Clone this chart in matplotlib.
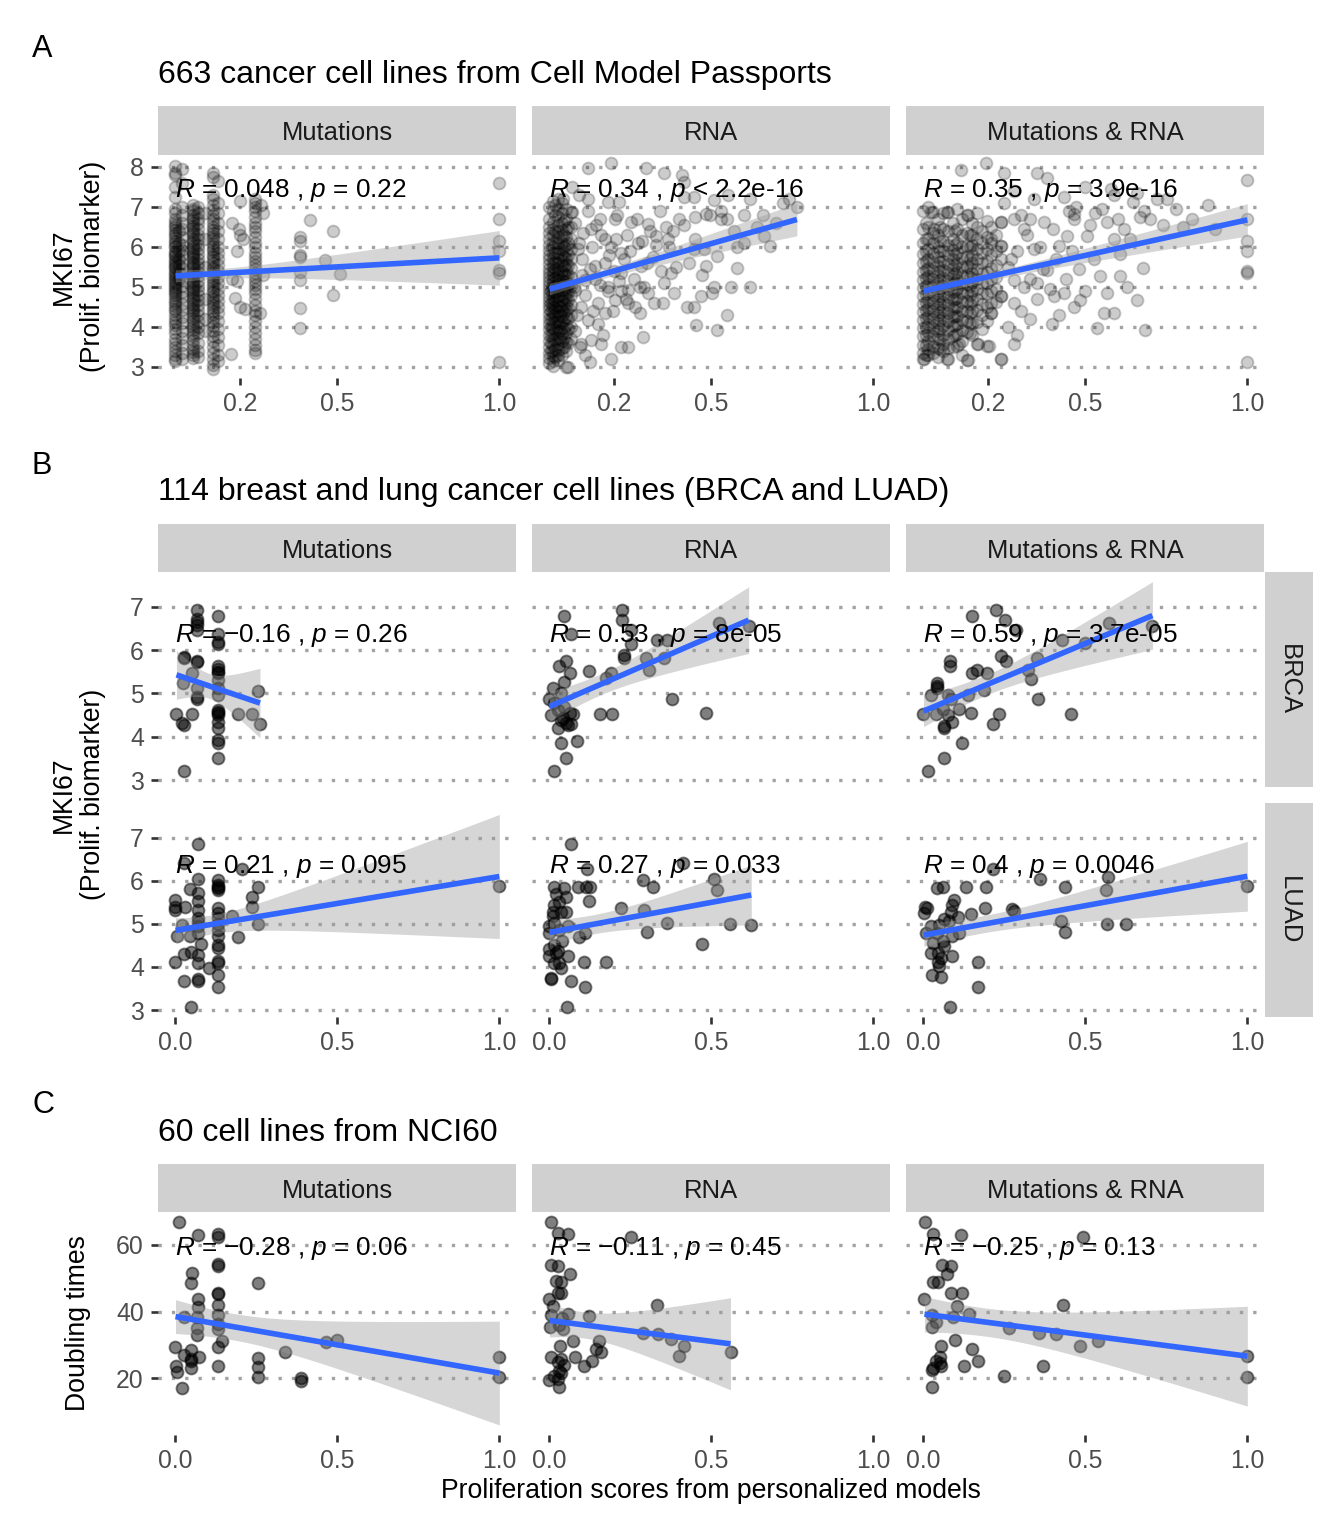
import numpy as np
import matplotlib.pyplot as plt
from matplotlib.patches import Rectangle

plt.rcParams["font.family"] = ["Liberation Sans", "DejaVu Sans"]
plt.rcParams["mathtext.fontset"] = "custom"
plt.rcParams["mathtext.rm"] = "Liberation Sans"
plt.rcParams["mathtext.it"] = "Liberation Sans:italic"

W, H, DPI = 1344, 1536, 192

METHODS = ["Mutations", "RNA", "Mutations & RNA"]

# ---------------------------------------------------------------- panel A data
# columns of points: (x, [y values])  +  loose points (x, y)
A_MUT_COLS = [
    (0.0, [8.02, 7.85, 7.78, 7.5, 7.25, 6.95, 6.85, 6.7, 6.62, 6.55, 6.5, 6.42, 6.35, 6.3, 6.22, 6.15, 6.1,
           6.02, 5.98, 5.9, 5.85, 5.8, 5.76, 5.7, 5.65, 5.6, 5.55, 5.5, 5.46, 5.4, 5.35, 5.3, 5.25, 5.2,
           5.15, 5.1, 5.05, 5.0, 4.95, 4.9, 4.85, 4.8, 4.72, 4.65, 4.6, 4.52, 4.45, 4.4, 4.3, 4.2, 4.12,
           4.05, 3.95, 3.85, 3.7, 3.6, 3.5, 3.4, 3.3, 3.2, 3.15]),
    (0.01, [6.4, 6.1, 5.9, 5.7, 5.55, 5.35, 5.2]),
    (0.02, [7.95, 7.6, 7.0, 6.8, 6.6, 6.45, 6.25, 6.05, 5.92, 5.78, 5.6, 5.48, 5.32, 5.18, 5.02, 4.88,
            4.75, 4.58, 4.42, 4.25, 4.1, 3.9, 3.72, 3.55, 3.35, 3.2]),
    (0.055, [7.05, 6.95, 6.88, 6.8, 6.72, 6.66, 6.6, 6.52, 6.46, 6.4, 6.33, 6.28, 6.2, 6.14, 6.08, 6.02,
             5.96, 5.9, 5.85, 5.8, 5.74, 5.68, 5.62, 5.57, 5.52, 5.46, 5.4, 5.35, 5.3, 5.24, 5.18, 5.12,
             5.06, 5.0, 4.95, 4.9, 4.84, 4.78, 4.72, 4.66, 4.6, 4.54, 4.48, 4.42, 4.36, 4.3, 4.22, 4.15,
             4.08, 4.0, 3.92, 3.85, 3.76, 3.66, 3.55, 3.45, 3.38, 3.3, 3.22]),
    (0.07, [7.0, 6.85, 6.7, 6.58, 6.45, 6.3, 6.18, 6.05, 5.93, 5.82, 5.7, 5.6, 5.5, 5.38, 5.27, 5.15,
            5.03, 4.92, 4.8, 4.68, 4.55, 4.42, 4.3, 4.15, 4.0, 3.85, 3.6, 3.4, 3.25]),
    (0.09, [6.85, 6.2, 5.5, 4.7, 4.2, 3.9]),
    (0.115, [7.85, 7.75, 7.3, 7.2, 7.05, 6.92, 6.8, 6.7, 6.6, 6.5, 6.42, 6.34, 6.26, 6.18, 6.1, 6.02,
             5.95, 5.88, 5.8, 5.73, 5.66, 5.58, 5.5, 5.44, 5.37, 5.3, 5.22, 5.15, 5.08, 5.0, 4.93, 4.86,
             4.78, 4.7, 4.62, 4.55, 4.47, 4.4, 4.32, 4.22, 4.12, 4.02, 3.9, 3.78, 3.65, 3.5, 3.35, 3.2,
             3.05, 2.95]),
    (0.13, [7.65, 7.1, 6.85, 6.6, 6.4, 6.2, 6.0, 5.85, 5.7, 5.55, 5.4, 5.25, 5.1, 4.95, 4.8, 4.65, 4.5,
            4.35, 4.15, 3.95, 3.75, 3.55, 3.3, 3.15]),
    (0.245, [7.2, 7.1, 7.0, 6.9, 6.75, 6.6, 6.5, 6.38, 6.25, 6.1, 5.98, 5.85, 5.75, 5.65, 5.55, 5.45,
             5.35, 5.25, 5.15, 5.05, 4.95, 4.85, 4.7, 4.55, 4.4, 4.3, 4.15, 4.0, 3.85, 3.7, 3.55, 3.42,
             3.35]),
]
A_MUT_PTS = [
    (0.175, 6.58), (0.195, 6.45), (0.2, 6.3), (0.21, 6.2), (0.175, 5.2), (0.19, 5.15), (0.185, 4.72),
    (0.2, 4.5), (0.215, 4.45), (0.17, 3.33), (0.2, 7.15), (0.19, 5.9), (0.27, 6.85), (0.265, 7.05),
    (0.27, 5.3), (0.26, 4.35), (0.385, 6.25), (0.385, 6.13), (0.385, 5.79), (0.385, 5.75), (0.385, 5.38),
    (0.385, 5.17), (0.385, 4.46), (0.385, 3.96), (0.415, 6.67), (0.462, 5.67), (0.487, 6.38),
    (0.487, 4.79), (0.508, 5.32), (1.0, 7.6), (1.0, 6.68), (1.0, 6.13), (1.0, 5.88), (1.0, 5.42),
    (1.0, 5.35), (1.0, 3.13),
]

A_RNA_COLS = [
    (0.0, [7.0, 6.7, 6.5, 6.35, 6.2, 6.05, 5.92, 5.8, 5.68, 5.56, 5.45, 5.35, 5.25, 5.15, 5.05, 4.95,
           4.85, 4.75, 4.65, 4.55, 4.45, 4.33, 4.2, 4.08, 3.95, 3.8, 3.65, 3.5, 3.35, 3.22, 3.1]),
    (0.006, [4.9, 4.6, 4.4, 4.2, 4.0, 3.8, 3.6, 3.4]),
    (0.012, [7.15, 6.9, 6.62, 6.45, 6.28, 6.12, 5.98, 5.85, 5.72, 5.6, 5.5, 5.4, 5.3, 5.2, 5.1, 5.0,
             4.9, 4.8, 4.7, 4.6, 4.5, 4.38, 4.26, 4.12, 3.98, 3.84, 3.7, 3.55, 3.4, 3.28, 3.15, 3.02]),
    (0.018, [6.8, 6.4, 6.1, 5.85, 5.62, 5.42, 5.22, 5.02, 4.84, 4.66, 4.48, 4.3, 4.12, 3.92, 3.7, 3.45,
             3.25]),
    (0.025, [7.2, 6.95, 6.75, 6.55, 6.4, 6.25, 6.1, 5.96, 5.83, 5.7, 5.58, 5.46, 5.36, 5.26, 5.16, 5.06,
             4.96, 4.86, 4.76, 4.64, 4.52, 4.4, 4.28, 4.15, 4.0, 3.86, 3.72, 3.56, 3.42, 3.3, 3.18]),
    (0.032, [4.5, 4.3, 4.1, 3.9, 3.7]),
    (0.038, [7.1, 6.85, 6.6, 6.42, 6.26, 6.1, 5.95, 5.8, 5.66, 5.53, 5.4, 5.28, 5.16, 5.04, 4.92, 4.8,
             4.68, 4.55, 4.42, 4.28, 4.14, 3.98, 3.82, 3.65, 3.48, 3.3]),
    (0.044, [6.65, 6.3, 6.0, 5.75, 5.52, 5.32, 5.12, 4.92, 4.74, 4.56, 4.38, 4.18, 3.96, 3.72, 3.5]),
    (0.05, [6.95, 6.7, 6.45, 6.25, 6.05, 5.88, 5.72, 5.56, 5.42, 5.28, 5.14, 5.0, 4.86, 4.72, 4.58, 4.42,
            4.25, 4.05, 3.85, 3.62, 3.4, 2.99]),
    (0.058, [6.5, 6.1, 5.8, 5.55, 5.3, 5.08, 4.88, 4.68, 4.46, 4.22, 3.95, 3.6]),
    (0.065, [6.86, 6.5, 6.2, 5.95, 5.7, 5.48, 5.25, 5.02, 4.8, 4.55, 4.3, 4.0, 3.7]),
]
A_RNA_PTS = [
    (0.19, 8.08), (0.119, 7.96), (0.298, 7.96), (0.355, 7.83), (0.41, 7.79), (0.416, 7.62), (0.416, 7.24),
    (0.447, 7.24), (0.508, 7.16), (0.042, 7.2), (0.119, 7.2), (0.18, 7.12), (0.216, 7.12), (0.62, 7.2),
    (0.739, 7.2), (0.764, 6.99), (0.483, 6.82), (0.497, 6.78), (0.53, 6.69), (0.549, 6.69), (0.6, 6.78),
    (0.641, 6.48), (0.662, 6.27), (0.682, 6.02), (0.58, 5.98), (0.518, 5.77), (0.477, 5.94), (0.447, 5.94),
    (0.483, 5.51), (0.58, 5.47), (0.559, 5.0), (0.62, 5.0), (0.508, 5.0), (0.467, 4.76), (0.426, 4.5),
    (0.447, 4.5), (0.503, 4.84), (0.549, 4.29), (0.452, 4.04), (0.518, 3.91), (0.288, 3.75), (0.124, 3.11),
    (0.19, 3.2), (0.221, 3.49), (0.242, 3.49), (0.16, 3.57), (0.129, 3.66), (0.098, 3.57), (0.057, 2.99),
    (0.385, 4.84), (0.375, 5.35), (0.324, 4.59), (0.278, 4.34), (0.242, 4.59), (0.355, 5.09), (0.329, 6.27),
    (0.365, 6.19), (0.416, 6.53), (0.303, 6.57), (0.252, 6.61), (0.201, 6.69), (0.155, 6.69), (0.17, 6.19),
    (0.221, 5.85), (0.273, 6.1), (0.283, 5.51), (0.221, 5.35), (0.18, 5.0), (0.242, 4.92), (0.293, 5.0),
    (0.201, 4.67), (0.17, 4.34), (0.119, 4.17), (0.149, 4.08), (0.098, 4.5), (0.078, 4.92), (0.109, 5.18),
    (0.139, 5.51), (0.088, 5.94), (0.129, 6.44), (0.068, 6.86), (0.016, 7.03),
    (0.08, 6.6), (0.09, 6.1), (0.1, 5.7), (0.1, 5.3), (0.11, 4.8), (0.085, 4.3), (0.12, 6.9), (0.13, 6.0),
    (0.14, 5.2), (0.15, 4.6), (0.16, 6.3), (0.17, 5.6), (0.18, 4.9), (0.19, 6.0), (0.2, 5.4), (0.21, 6.8),
    (0.22, 4.9), (0.23, 5.7), (0.24, 6.3), (0.26, 5.2), (0.27, 6.7), (0.28, 5.0), (0.3, 5.6), (0.31, 6.4),
    (0.33, 6.05), (0.34, 6.9), (0.35, 4.6), (0.37, 6.0), (0.39, 5.5), (0.4, 6.7), (0.075, 5.0), (0.08, 3.9),
    (0.095, 3.5), (0.105, 6.35), (0.125, 5.45), (0.135, 4.4), (0.145, 6.55), (0.155, 5.05), (0.165, 3.8),
    (0.185, 5.8), (0.195, 4.4), (0.205, 6.2), (0.215, 5.15), (0.235, 4.7), (0.25, 5.9), (0.265, 4.5),
    (0.285, 6.15), (0.305, 4.85), (0.32, 5.75), (0.345, 5.4), (0.36, 6.5), (0.38, 6.4), (0.43, 5.6),
    (0.45, 6.2), (0.47, 5.3), (0.09, 7.3), (0.07, 7.5), (0.11, 3.3),
    (0.53, 6.9), (0.57, 6.4), (0.66, 6.8), (0.7, 6.6), (0.72, 7.1), (0.55, 7.3), (0.6, 6.1), (0.45, 6.75),
]

A_BOTH_COLS = [
    (0.0, [6.9, 6.45, 6.1, 5.82, 5.58, 5.36, 5.16, 4.96, 4.76, 4.56, 4.36, 4.16, 3.96, 3.76, 3.55, 3.35, 3.2]),
    (0.0075, [6.6, 6.2, 5.9, 5.65, 5.42, 5.22, 5.02, 4.82, 4.62, 4.42, 4.22, 4.0, 3.8, 3.55, 3.3]),
    (0.015, [7.0, 6.5, 6.2, 5.95, 5.7, 5.48, 5.28, 5.08, 4.88, 4.68, 4.48, 4.28, 4.08, 3.88, 3.65, 3.45, 3.3]),
    (0.03, [6.86, 6.35, 6.1, 5.85, 5.62, 5.4, 5.2, 5.0, 4.8, 4.6, 4.4, 4.2, 3.98, 3.76, 3.52, 3.35]),
    (0.045, [6.7, 6.3, 6.0, 5.75, 5.52, 5.3, 5.1, 4.9, 4.7, 4.5, 4.3, 4.1, 3.9, 3.7, 3.48, 3.25]),
    (0.0525, [6.5, 6.15, 5.88, 5.62, 5.4, 5.18, 4.98, 4.78, 4.58, 4.38, 4.16, 3.94, 3.7, 3.45]),
    (0.06, [6.85, 6.45, 6.15, 5.9, 5.65, 5.42, 5.22, 5.02, 4.82, 4.62, 4.42, 4.22, 4.02, 3.8, 3.58, 3.4]),
    (0.075, [6.86, 6.38, 6.05, 5.8, 5.56, 5.34, 5.14, 4.94, 4.74, 4.54, 4.34, 4.14, 3.92, 3.7, 3.48, 3.2]),
    (0.09, [6.6, 6.2, 5.92, 5.68, 5.46, 5.26, 5.06, 4.86, 4.66, 4.45, 4.24, 4.02, 3.78, 3.5]),
    (0.0975, [6.4, 6.05, 5.78, 5.54, 5.32, 5.1, 4.9, 4.7, 4.5, 4.28, 4.05, 3.8]),
    (0.105, [6.95, 6.45, 6.1, 5.84, 5.6, 5.38, 5.16, 4.94, 4.72, 4.5, 4.28, 4.06, 3.82, 3.52]),
    (0.12, [6.7, 6.3, 5.98, 5.72, 5.5, 5.28, 5.06, 4.84, 4.62, 4.4, 4.16, 3.92, 3.65, 3.3]),
    (0.135, [6.78, 6.35, 6.02, 5.76, 5.52, 5.3, 5.08, 4.86, 4.64, 4.4, 4.15, 3.88, 3.16]),
    (0.1425, [6.3, 5.98, 5.7, 5.46, 5.24, 5.02, 4.8, 4.58, 4.35, 4.1, 3.85]),
    (0.15, [6.6, 6.3, 6.05, 5.8, 5.58, 5.35, 5.12, 4.9, 4.65, 4.4, 4.1, 3.8]),
    (0.165, [6.85, 6.5, 6.2, 5.95, 5.7, 5.45, 5.2, 4.95, 4.7, 4.42, 4.12, 3.58]),
    (0.18, [6.4, 6.1, 5.85, 5.6, 5.35, 5.1, 4.85, 4.58, 4.3, 3.95]),
    (0.195, [6.65, 6.25, 5.95, 5.65, 5.38, 5.1, 4.82, 4.5, 4.15, 3.53]),
    (0.21, [6.5, 6.1, 5.78, 5.48, 5.2, 4.9, 4.6, 4.34]),
    (0.225, [6.3, 5.9, 5.55, 5.25, 4.95, 4.62]),
    (0.24, [6.61, 6.02, 5.7, 4.76, 3.2]),
]
A_BOTH_PTS = [
    (0.192, 8.08), (0.115, 7.92), (0.249, 7.83), (0.351, 7.83), (0.382, 7.71), (1.0, 7.66), (0.433, 7.24),
    (0.464, 6.82), (0.587, 7.28), (0.648, 7.12), (0.72, 7.2), (0.751, 7.2), (0.879, 7.03), (0.669, 6.74),
    (0.7, 6.69), (0.602, 6.69), (0.566, 6.61), (0.515, 6.53), (0.802, 6.48), (1.0, 6.69), (1.0, 6.15),
    (1.0, 5.89), (1.0, 5.39), (1.0, 5.35), (1.0, 3.11), (0.679, 5.47), (0.638, 6.19), (0.587, 6.19),
    (0.607, 5.81), (0.525, 5.68), (0.546, 5.26), (0.607, 5.26), (0.628, 5.0), (0.659, 4.67), (0.566, 4.84),
    (0.587, 4.34), (0.556, 4.34), (0.536, 3.96), (0.684, 3.92), (0.397, 4.08), (0.484, 4.67), (0.464, 4.5),
    (0.433, 4.84), (0.402, 4.76), (0.351, 5.09), (0.382, 5.43), (0.341, 5.94), (0.418, 6.02), (0.443, 6.27),
    (0.505, 6.27), (0.464, 6.69), (0.28, 3.58), (0.238, 3.2), (0.203, 3.53), (0.167, 3.58), (0.136, 3.16),
    (0.11, 3.58), (0.074, 3.2), (0.003, 3.2), (0.28, 4.59), (0.238, 4.76), (0.207, 4.34), (0.28, 5.18),
    (0.31, 5.0), (0.27, 5.68), (0.238, 6.02), (0.207, 6.19), (0.238, 6.61), (0.28, 6.69), (0.33, 6.69),
    (0.372, 6.61), (0.31, 6.44), (0.136, 6.78), (0.074, 6.86), (0.024, 6.86), (0.034, 6.44),
    (0.26, 5.5), (0.29, 5.9), (0.3, 4.4), (0.32, 6.3), (0.33, 5.2), (0.35, 4.7), (0.36, 6.0), (0.37, 5.45),
    (0.39, 4.95), (0.41, 5.7), (0.42, 4.3), (0.44, 5.2), (0.46, 5.9), (0.48, 5.45), (0.5, 4.9), (0.25, 7.1),
    (0.28, 7.4), (0.3, 6.8), (0.34, 7.2), (0.4, 6.45), (0.45, 6.9), (0.26, 4.0), (0.29, 3.8), (0.33, 4.2),
    (0.55, 6.95), (0.62, 6.45), (0.68, 6.9), (0.74, 6.55), (0.78, 6.95), (0.83, 6.7), (0.9, 6.45),
    (0.58, 7.45), (0.5, 7.5), (0.66, 7.35), (0.47, 7.0), (0.53, 6.85),
]

# ---------------------------------------------------------------- panel B data
B_MUT_BRCA = [
    (0.066, 6.92), (0.066, 6.72), (0.066, 6.65), (0.066, 6.58), (0.066, 6.46), (0.131, 6.78), (0.131, 6.38),
    (0.131, 6.19), (0.131, 6.15), (0.026, 5.85), (0.026, 5.81), (0.066, 5.75), (0.066, 5.73), (0.131, 5.62),
    (0.131, 5.56), (0.131, 5.5), (0.131, 5.46), (0.051, 5.46), (0.023, 5.23), (0.066, 5.12), (0.066, 4.92),
    (0.066, 4.86), (0.131, 5.31), (0.131, 5.12), (0.131, 4.96), (0.131, 4.62), (0.131, 4.58), (0.131, 4.54),
    (0.131, 4.5), (0.131, 4.35), (0.131, 4.19), (0.131, 3.92), (0.131, 3.86), (0.131, 3.52), (0.003, 4.52),
    (0.051, 4.52), (0.02, 4.31), (0.026, 4.27), (0.026, 3.22), (0.192, 4.52), (0.235, 4.52), (0.256, 5.06),
    (0.261, 4.29),
]
B_RNA_BRCA = [
    (0.046, 6.78), (0.224, 6.92), (0.224, 6.69), (0.251, 6.46), (0.065, 6.37), (0.251, 6.14), (0.333, 6.22),
    (0.364, 6.22), (0.523, 6.62), (0.615, 6.55), (0.229, 5.88), (0.229, 5.81), (0.297, 5.81), (0.354, 5.81),
    (0.051, 5.75), (0.028, 5.62), (0.062, 5.46), (0.123, 5.52), (0.19, 5.46), (0.308, 5.55), (0.174, 5.35),
    (0.046, 5.27), (0.01, 5.13), (0.036, 5.02), (0.0, 4.88), (0.015, 4.77), (0.046, 4.69), (0.005, 4.5),
    (0.026, 4.62), (0.062, 4.55), (0.072, 4.52), (0.036, 4.38), (0.056, 4.27), (0.067, 4.29), (0.026, 4.19),
    (0.085, 3.91), (0.036, 3.86), (0.051, 3.52), (0.015, 3.22), (0.156, 4.52), (0.192, 4.52), (0.377, 4.88),
    (0.483, 4.54), (0.041, 4.44), (0.051, 4.32),
]
B_BOTH_BRCA = [
    (0.15, 6.78), (0.225, 6.92), (0.252, 6.69), (0.285, 6.46), (0.428, 6.22), (0.5, 6.17), (0.574, 6.62),
    (0.707, 6.55), (0.239, 5.86), (0.254, 5.75), (0.351, 5.82), (0.083, 5.75), (0.083, 5.62), (0.165, 5.54),
    (0.15, 5.46), (0.196, 5.46), (0.324, 5.55), (0.333, 5.33), (0.042, 5.25), (0.042, 5.17), (0.042, 5.12),
    (0.024, 4.96), (0.075, 4.96), (0.136, 4.96), (0.188, 5.08), (0.085, 4.88), (0.0, 4.52), (0.039, 4.52),
    (0.059, 4.65), (0.075, 4.5), (0.109, 4.63), (0.146, 4.55), (0.087, 4.33), (0.063, 4.25), (0.063, 4.19),
    (0.232, 4.52), (0.215, 4.29), (0.355, 4.88), (0.454, 4.52), (0.119, 3.86), (0.063, 3.52), (0.015, 3.22),
]
B_MUT_LUAD = [
    (0.069, 6.85), (0.026, 6.4), (0.069, 6.05), (0.204, 6.28), (0.131, 6.02), (0.131, 5.9), (0.131, 5.85),
    (0.131, 5.83), (0.131, 5.78), (0.046, 5.8), (0.069, 5.71), (0.256, 5.85), (0.235, 5.63), (0.235, 5.38),
    (0.0, 5.55), (0.0, 5.4), (0.0, 5.31), (0.028, 5.38), (0.069, 5.52), (0.069, 5.32), (0.069, 5.13),
    (0.069, 5.05), (0.069, 4.78), (0.131, 5.36), (0.131, 5.25), (0.131, 5.13), (0.131, 4.86), (0.131, 4.71),
    (0.131, 4.52), (0.131, 4.44), (0.131, 4.13), (0.131, 4.09), (0.131, 3.82), (0.131, 3.53), (0.174, 5.18),
    (0.194, 4.69), (0.256, 5.0), (0.02, 4.98), (0.005, 4.71), (0.046, 4.71), (0.079, 4.53), (0.026, 4.31),
    (0.048, 4.35), (0.069, 4.27), (0.069, 4.09), (0.102, 3.98), (0.0, 4.11), (0.026, 3.68), (0.069, 3.72),
    (0.069, 3.68), (0.048, 3.08), (1.0, 5.88), (0.069, 4.95), (0.131, 5.0),
]
B_RNA_LUAD = [
    (0.065, 6.85), (0.115, 6.28), (0.412, 6.42), (0.29, 6.02), (0.321, 5.85), (0.508, 6.05), (0.518, 5.78),
    (0.013, 5.86), (0.046, 5.82), (0.087, 5.86), (0.113, 5.86), (0.126, 5.86), (0.051, 5.63), (0.121, 5.53),
    (0.015, 5.44), (0.01, 5.28), (0.01, 5.17), (0.036, 5.28), (0.051, 5.28), (0.221, 5.36), (0.292, 5.32),
    (0.364, 5.03), (0.557, 4.99), (0.623, 4.98), (0.0, 4.94), (0.015, 5.02), (0.0, 4.78), (0.056, 4.94),
    (0.111, 4.78), (0.092, 4.69), (0.301, 4.8), (0.47, 4.53), (0.0, 4.42), (0.015, 4.5), (0.026, 4.38),
    (0.021, 4.32), (0.056, 4.25), (0.0, 4.25), (0.015, 4.09), (0.028, 4.09), (0.036, 3.98), (0.106, 4.11),
    (0.174, 4.11), (0.005, 3.75), (0.005, 3.71), (0.067, 3.68), (0.111, 3.53), (0.054, 3.07), (0.03, 5.5),
    (0.02, 5.7), (0.04, 4.6), (0.03, 4.85),
]
B_BOTH_LUAD = [
    (0.215, 6.26), (0.36, 6.03), (0.57, 6.08), (0.564, 5.78), (0.436, 5.85), (0.042, 5.82), (0.06, 5.85),
    (0.131, 5.85), (0.193, 5.86), (0.005, 5.4), (0.011, 5.36), (0.001, 5.26), (0.093, 5.55), (0.087, 5.44),
    (0.085, 5.28), (0.146, 5.23), (0.191, 5.37), (0.273, 5.35), (0.28, 5.29), (0.063, 5.12), (0.106, 5.15),
    (0.022, 4.94), (0.049, 4.98), (0.08, 5.06), (0.008, 4.78), (0.042, 4.78), (0.087, 4.71), (0.111, 4.78),
    (0.425, 5.06), (0.436, 4.8), (0.567, 4.99), (0.626, 4.99), (0.063, 4.48), (0.024, 4.32), (0.044, 4.32),
    (0.044, 4.12), (0.054, 4.2), (0.087, 4.25), (0.047, 4.02), (0.027, 3.82), (0.054, 3.76), (0.169, 4.11),
    (0.169, 3.53), (0.083, 3.07), (1.0, 5.88), (0.06, 4.6), (0.03, 4.55),
]

# ---------------------------------------------------------------- panel C data
C_MUT = [
    (0.01, 67), (0.069, 63), (0.131, 63.3), (0.131, 62.5), (0.131, 54.2), (0.131, 53.8), (0.051, 51.5),
    (0.048, 48.7), (0.254, 48.7), (0.069, 43.7), (0.069, 41.5), (0.131, 45.7), (0.131, 45.3), (0.131, 42),
    (0.131, 39), (0.131, 36.3), (0.131, 34.7), (0.026, 38.5), (0.066, 38.5), (0.066, 35), (0.066, 33),
    (0.143, 31.3), (0.131, 29.5), (0.131, 23.7), (0.0, 29.5), (0.026, 27), (0.048, 28.5), (0.048, 25.7),
    (0.048, 25.2), (0.072, 26.3), (0.048, 23), (0.002, 23.7), (0.005, 22), (0.02, 17.2), (0.256, 26),
    (0.256, 23.5), (0.256, 20.5), (0.339, 27.8), (0.389, 20), (0.389, 19.3), (0.465, 31), (0.498, 31.5),
    (1.0, 26.5), (1.0, 20.3),
]
C_RNA = [
    (0.005, 66.9), (0.026, 63.7), (0.056, 63.3), (0.251, 62.3), (0.005, 54), (0.026, 53.8), (0.062, 51.4),
    (0.021, 49.1), (0.036, 48.8), (0.036, 45.6), (0.026, 45.6), (0.0, 43.8), (0.01, 41.6), (0.331, 42),
    (0.005, 38.9), (0.056, 39.2), (0.123, 38.7), (0.003, 35.5), (0.041, 34.7), (0.072, 31.2), (0.034, 29.7),
    (0.29, 33.7), (0.335, 33.2), (0.374, 31.7), (0.415, 29.7), (0.4, 26.8), (0.559, 28), (0.154, 31.2),
    (0.144, 28.8), (0.159, 27.8), (0.131, 25.3), (0.108, 23.8), (0.08, 26.3), (0.005, 26.3), (0.036, 25.8),
    (0.046, 24), (0.028, 22.3), (0.015, 20.8), (0.0, 19.6), (0.026, 19.8), (0.028, 17.3), (0.036, 21.5),
    (0.026, 24.8), (0.03, 36), (0.04, 38),
]
C_BOTH = [
    (0.005, 66.9), (0.029, 63.3), (0.116, 63), (0.493, 62.3), (0.056, 54), (0.085, 53.8), (0.073, 51.4),
    (0.029, 48.9), (0.044, 48.9), (0.085, 45.6), (0.119, 45.6), (0.003, 43.8), (0.103, 41.7), (0.43, 42),
    (0.027, 38.9), (0.09, 38.5), (0.141, 39.2), (0.027, 35.5), (0.264, 35.2), (0.357, 33.5), (0.408, 33.2),
    (0.482, 29.7), (0.538, 31.2), (0.098, 31.4), (0.054, 29.7), (0.15, 28.8), (0.167, 25.3), (0.124, 23.8),
    (0.052, 26.3), (0.039, 25.3), (0.054, 23.8), (0.029, 23), (0.027, 22.6), (0.249, 20.6), (0.37, 23.8),
    (0.027, 17.3), (1.0, 26.8), (1.0, 20.5), (0.04, 37), (0.05, 24.5),
]

# correlation labels as printed in the reference
LAB_A = ["$R$ = 0.048 , $p$ = 0.22", "$R$ = 0.34 , $p$ < 2.2e-16", "$R$ = 0.35 , $p$ = 3.9e-16"]
LAB_BRCA = ["$R$ = \u22120.16 , $p$ = 0.26", "$R$ = 0.53 , $p$ = 8e-05", "$R$ = 0.59 , $p$ = 3.7e-05"]
LAB_LUAD = ["$R$ = 0.21 , $p$ = 0.095", "$R$ = 0.27 , $p$ = 0.033", "$R$ = 0.4 , $p$ = 0.0046"]
LAB_C = ["$R$ = \u22120.28 , $p$ = 0.06", "$R$ = \u22120.11 , $p$ = 0.45", "$R$ = \u22120.25 , $p$ = 0.13"]

# ---------------------------------------------------------------- layout (pixels)
COLS_PX = [(158, 516), (532, 890), (906, 1264)]
STRIP_BG = "#D0D0D0"
GRID_COL = "#A3A3A3"
TICK_COL = "#333333"
LAB_COL = "#4D4D4D"


def cols_to_xy(cols, pts):
    xs, ys = [], []
    for xv, yl in cols:
        xs += [xv] * len(yl)
        ys += list(yl)
    for xv, yv in pts:
        xs.append(xv)
        ys.append(yv)
    return np.array(xs, float), np.array(ys, float)


def pairs(pts):
    return cols_to_xy([], pts)


def ols_band(x, y):
    n = len(x)
    xm = x.mean()
    sxx = ((x - xm) ** 2).sum()
    b = ((x - xm) * (y - y.mean())).sum() / sxx
    a = y.mean() - b * xm
    s = np.sqrt(((y - a - b * x) ** 2).sum() / (n - 2))
    xs = np.linspace(x.min(), x.max(), 80)
    fit = a + b * xs
    se = s * np.sqrt(1.0 / n + (xs - xm) ** 2 / sxx)
    t = 1.96 + 2.4 / (n - 2)  # approx. 95% t quantile
    return xs, fit, fit - t * se, fit + t * se


fig = plt.figure(figsize=(W / DPI, H / DPI), dpi=DPI)


def fx(px):
    return px / W


def fy(py):
    return 1 - py / H


def panel(col, top, bot, x, y, ylim, yticks, label, label_y, alpha, show_y, show_x, xticks):
    l, r = COLS_PX[col]
    ax = fig.add_axes([fx(l), fy(bot), (r - l) / W, (bot - top) / H])
    ax.set_xlim(-0.054, 1.0515)
    ax.set_ylim(*ylim)
    ax.set_yticks(yticks)
    ax.set_xticks(xticks)
    ax.set_xticklabels([f"{t:.1f}" for t in xticks])
    for sp in ax.spines.values():
        sp.set_visible(False)
    ax.grid(axis="y", linestyle=(0, (1, 3)), linewidth=1.25, color=GRID_COL, dash_capstyle="butt")
    ax.grid(axis="x", visible=False)
    ax.set_axisbelow(True)
    ax.tick_params(length=2.7, width=1.0, color=TICK_COL, labelsize=9.3, labelcolor=LAB_COL, pad=2.6)
    ax.tick_params(axis="y", left=show_y, labelleft=show_y)
    ax.tick_params(axis="x", bottom=show_x, labelbottom=show_x)
    ax.scatter(x, y, s=20, facecolor=(0, 0, 0, alpha), edgecolor=(0, 0, 0, alpha), linewidths=0.7, zorder=2)
    xs, fit, lo, hi = ols_band(x, y)
    ax.fill_between(xs, lo, hi, color="#999999", alpha=0.4, linewidth=0, zorder=3)
    ax.plot(xs, fit, color="#3366FF", linewidth=2.1, zorder=4, solid_capstyle="butt")
    ax.text(0.0, label_y, label, fontsize=9.8, ha="left", va="baseline", color="black", zorder=5)
    return ax


def top_strip(col, top, bot, text):
    l, r = COLS_PX[col]
    fig.patches.append(Rectangle((fx(l), fy(bot)), (r - l) / W, (bot - top) / H,
                                 transform=fig.transFigure, facecolor=STRIP_BG, edgecolor="none"))
    fig.text(fx((l + r) / 2), fy(bot - 14.5), text, fontsize=9.6, color="#1A1A1A", ha="center", va="baseline")


def right_strip(top, bot, text):
    l, r = 1265, 1313
    fig.patches.append(Rectangle((fx(l), fy(bot)), (r - l) / W, (bot - top) / H,
                                 transform=fig.transFigure, facecolor=STRIP_BG, edgecolor="none"))
    fig.text(fx((l + r) / 2), fy((top + bot) / 2), text, fontsize=9.6, color="#1A1A1A",
             ha="center", va="center", rotation=-90)


# ---------------- block A
a_data = [cols_to_xy(A_MUT_COLS, A_MUT_PTS), cols_to_xy(A_RNA_COLS, A_RNA_PTS),
          cols_to_xy(A_BOTH_COLS, A_BOTH_PTS)]
for i, (x, y) in enumerate(a_data):
    panel(i, 155, 378, x, y, (2.72, 8.29), [3, 4, 5, 6, 7, 8], LAB_A[i], 7.25, 0.2,
          i == 0, True, [0.2, 0.5, 1.0])
    top_strip(i, 106, 155, METHODS[i])

# ---------------- block B
brca = [B_MUT_BRCA, B_RNA_BRCA, B_BOTH_BRCA]
luad = [B_MUT_LUAD, B_RNA_LUAD, B_BOTH_LUAD]
for i in range(3):
    x, y = pairs(brca[i])
    panel(i, 572, 787, x, y, (2.84, 7.80), [3, 4, 5, 6, 7], LAB_BRCA[i], 6.19, 0.5,
          i == 0, False, [0.0, 0.5, 1.0])
    x, y = pairs(luad[i])
    panel(i, 803, 1017, x, y, (2.84, 7.80), [3, 4, 5, 6, 7], LAB_LUAD[i], 6.18, 0.5,
          i == 0, True, [0.0, 0.5, 1.0])
    top_strip(i, 524, 572, METHODS[i])
right_strip(572, 787, "BRCA")
right_strip(803, 1017, "LUAD")

# ---------------- block C
c_sets = [C_MUT, C_RNA, C_BOTH]
for i in range(3):
    x, y = pairs(c_sets[i])
    panel(i, 1212, 1435, x, y, (3.0, 69.9), [20, 40, 60], LAB_C[i], 57.0, 0.5,
          i == 0, True, [0.0, 0.5, 1.0])
    top_strip(i, 1164, 1212, METHODS[i])

# ---------------- titles and axis labels
for letter, base in [("A", 57), ("B", 474), ("C", 1113)]:
    fig.text(fx(32), fy(base), letter, fontsize=11.5, ha="left", va="baseline")
titles = [("663 cancer cell lines from Cell Model Passports", 83.3),
          ("114 breast and lung cancer cell lines (BRCA and LUAD)", 500.3),
          ("60 cell lines from NCI60", 1141)]
for txt, base in titles:
    fig.text(fx(158), fy(base), txt, fontsize=12, ha="left", va="baseline")

for yc in (266.5, 794.5):
    fig.text(fx(78.5), fy(yc), "MKI67\n(Prolif. biomarker)", fontsize=10, rotation=90,
             ha="center", va="center", multialignment="center", linespacing=1.2)
fig.text(fx(78), fy(1323.5), "Doubling times", fontsize=10, rotation=90, ha="center", va="center")
fig.text(fx(711), fy(1498), "Proliferation scores from personalized models", fontsize=10,
         ha="center", va="baseline")

fig.savefig("out.png", dpi=DPI)
